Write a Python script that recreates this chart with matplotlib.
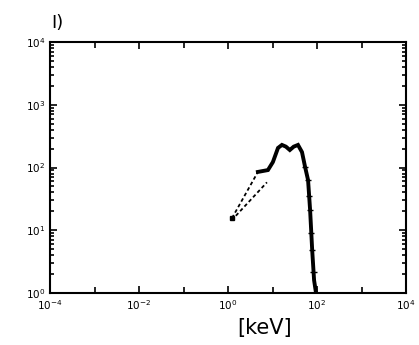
import matplotlib
matplotlib.use("Agg")
import matplotlib.pyplot as plt
import numpy as np
from matplotlib.ticker import LogLocator, NullFormatter, FixedLocator

# Spectrum data (energy in keV, intensity)
energy = [4.7, 7.9, 10.2, 13.3, 16.3, 20.0, 24.5, 30.0, 37.4, 46.0, 54.0, 63.0, 70.0, 78.0, 86.0, 95.0]
intensity = [85, 91, 122, 205, 229, 215, 190, 215, 229, 176, 102, 63, 21, 4.8, 1.6, 1.0]

# error-bar points along the falling edge
err_energy = [54.0, 63.0, 67.0, 70.0, 74.0, 78.0, 84.0]
err_value = [102, 63, 35, 21, 9.0, 4.8, 2.2]

# dashed extrapolation lines
dash_upper_x = [1.23, 4.7]
dash_upper_y = [15.6, 85]
dash_lower_x = [1.5, 7.5]
dash_lower_y = [17.0, 58]

xticks = [1e-4, 1e-2, 1e0, 1e2, 1e4]
xticklabels = [r"$10^{-4}$", r"$10^{-2}$", r"$10^{0}$", r"$10^{2}$", r"$10^{4}$"]
yticks = [1e0, 1e1, 1e2, 1e3, 1e4]
yticklabels = [r"$10^{0}$", r"$10^{1}$", r"$10^{2}$", r"$10^{3}$", r"$10^{4}$"]

fig = plt.figure(figsize=(4.19, 3.45), dpi=100)
ax = fig.add_axes([50/419, 1-293/345, (406-50)/419, (293-42)/345])
ax.set_xscale("log")
ax.set_yscale("log")
ax.set_xlim(1e-4, 1e4)
ax.set_ylim(1e0, 1e4)

ax.plot(dash_upper_x, dash_upper_y, color="black", lw=1.3, ls=(0, (2, 1.5)))
ax.plot(dash_lower_x, dash_lower_y, color="black", lw=1.3, ls=(0, (2, 1.5)))
ax.plot([dash_upper_x[0]], [dash_upper_y[0]], 'ks', ms=3.5)
ax.plot(energy, intensity, color="black", lw=2.8, solid_joinstyle="miter")
ax.errorbar(err_energy, err_value, xerr=[[e*0.15 for e in err_energy], [e*0.18 for e in err_energy]],
            fmt="none", ecolor="black", elinewidth=1.0)

ax.set_xticks(xticks)
ax.set_xticklabels(xticklabels)
ax.xaxis.set_minor_locator(FixedLocator([1e-3, 1e-1, 1e1, 1e3]))
ax.xaxis.set_minor_formatter(NullFormatter())
ax.set_yticks(yticks)
ax.set_yticklabels(yticklabels)
ax.yaxis.set_minor_locator(LogLocator(base=10, subs=np.arange(2, 10)))
ax.yaxis.set_minor_formatter(NullFormatter())

ax.tick_params(which="both", direction="in", top=True, right=True, labelsize=7.5, width=1.2)
ax.tick_params(which="major", length=5)
ax.tick_params(which="minor", length=3)
ax.tick_params(axis="x", which="minor", length=4)
for s in ax.spines.values():
    s.set_linewidth(1.5)

fig.text(265/419, 1-328/345, "[keV]", fontsize=15, ha="center", va="center")
fig.text(57/419, 1-23/345, "I)", fontsize=13, ha="center", va="center")

fig.savefig("out.png", dpi=100)
